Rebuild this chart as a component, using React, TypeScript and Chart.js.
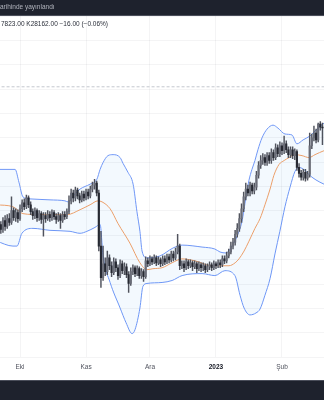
import React, { useEffect, useRef } from 'react';
import { Chart, registerables } from 'chart.js';

Chart.register(...registerables);

// x-axis: day index (0 = first candle), tick days and labels
const TICK_DAYS = [10, 41, 71, 102, 133];
const TICK_LABELS = ['Eki', 'Kas', 'Ara', '2023', 'Şub'];

const OPEN = [
  26280, 26200, 26100, 26280, 26160, 26320, 26240, 26480, 26340, 26440,
  26320, 26520, 26640, 26560, 26740, 26600, 26460, 26380, 26480, 26340,
  26420, 26300, 26380, 26320, 26400, 26340, 26440, 26360, 26300, 26380,
  26280, 26400, 26360, 26460, 26680, 26840, 26740, 26900, 26780, 26700,
  26820, 26740, 26860, 26780, 26920, 27000, 27040, 26840, 25760, 25120,
  25400, 25240, 25520, 25360, 25220, 25440, 25320, 25160, 25400, 25260,
  25340, 25180, 25000, 25240, 25320, 25200, 25300, 25160, 25240, 25140,
  25460, 25400, 25500, 25440, 25520, 25420, 25480, 25400, 25500, 25440,
  25540, 25480, 25600, 25520, 25640, 25760, 25360, 25400, 25320, 25440,
  25360, 25420, 25340, 25400, 25300, 25380, 25320, 25360, 25280, 25340,
  25380, 25320, 25400, 25360, 25420, 25380, 25500, 25460, 25560, 25640,
  25760, 25840, 26000, 26120, 26320, 26520, 26760, 26920, 26840, 27000,
  26880, 26960, 27200, 27400, 27500, 27560, 27460, 27600, 27500, 27660,
  27560, 27760, 27640, 27800, 27700, 27840, 27720, 27620, 27720, 27600,
  27680, 27360, 27240, 27160, 27260, 27140, 27220, 27800, 27960, 28060,
  27920, 28240, 28178,
];

const HIGH = [
  26340, 26260, 26340, 26380, 26400, 26420, 26760, 26540, 26520, 26500,
  26600, 26700, 26720, 26800, 26780, 26660, 26520, 26540, 26520, 26480,
  26460, 26440, 26440, 26480, 26460, 26500, 26480, 26420, 26440, 26420,
  26460, 26460, 26520, 26780, 26920, 26900, 26960, 26940, 26840, 26880,
  26880, 26920, 26920, 26980, 27060, 27120, 27080, 26900, 26060, 25760,
  25520, 25660, 25580, 25440, 25520, 25500, 25380, 25480, 25460, 25420,
  25400, 25240, 25320, 25380, 25360, 25360, 25340, 25300, 25280, 25540,
  25520, 25560, 25540, 25580, 25560, 25540, 25520, 25560, 25560, 25600,
  25600, 25660, 25660, 25720, 26000, 25800, 25460, 25460, 25500, 25480,
  25480, 25460, 25460, 25440, 25440, 25420, 25420, 25400, 25400, 25440,
  25420, 25460, 25440, 25480, 25480, 25560, 25560, 25640, 25700, 25840,
  25920, 26080, 26220, 26420, 26620, 26860, 27040, 27000, 27060, 27040,
  27040, 27280, 27480, 27600, 27640, 27620, 27660, 27660, 27740, 27720,
  27840, 27820, 27880, 27860, 28000, 27900, 27780, 27780, 27780, 27740,
  27720, 27440, 27300, 27320, 27320, 27280, 28060, 28040, 28200, 28140,
  28260, 28290, 28260,
];

const LOW = [
  26100, 26020, 26040, 26080, 26120, 26180, 26200, 26280, 26260, 26240,
  26280, 26460, 26500, 26520, 26540, 26400, 26300, 26320, 26260, 26280,
  26220, 25960, 26240, 26280, 26260, 26280, 26300, 26220, 26260, 26120,
  26240, 26300, 26320, 26420, 26620, 26660, 26680, 26720, 26640, 26660,
  26680, 26700, 26720, 26740, 26860, 26920, 26780, 25660, 24920, 25060,
  25160, 25180, 25280, 25140, 25180, 25240, 25080, 25120, 25200, 25180,
  25120, 24820, 24960, 25180, 25140, 25160, 25100, 25100, 25040, 25100,
  25340, 25360, 25380, 25400, 25360, 25380, 25340, 25360, 25380, 25400,
  25420, 25440, 25460, 25480, 25600, 25280, 25300, 25240, 25280, 25300,
  25320, 25260, 25300, 25220, 25260, 25240, 25260, 25220, 25240, 25280,
  25260, 25280, 25300, 25320, 25320, 25340, 25400, 25420, 25520, 25600,
  25700, 25780, 25940, 26060, 26240, 26460, 26700, 26780, 26780, 26820,
  26820, 26900, 27140, 27340, 27420, 27400, 27400, 27440, 27440, 27500,
  27520, 27580, 27580, 27620, 27640, 27660, 27560, 27560, 27540, 27520,
  27300, 27160, 27100, 27100, 27080, 27100, 27160, 27740, 27900, 27860,
  27880, 28120, 27823,
];

const CLOSE = [
  26200, 26100, 26280, 26160, 26320, 26240, 26480, 26340, 26440, 26320,
  26520, 26640, 26560, 26740, 26600, 26460, 26380, 26480, 26340, 26420,
  26300, 26380, 26320, 26400, 26340, 26440, 26360, 26300, 26380, 26280,
  26400, 26360, 26460, 26680, 26840, 26740, 26900, 26780, 26700, 26820,
  26740, 26860, 26780, 26920, 27000, 27040, 26840, 25760, 25120, 25400,
  25240, 25520, 25360, 25220, 25440, 25320, 25160, 25400, 25260, 25340,
  25180, 25000, 25240, 25320, 25200, 25300, 25160, 25240, 25140, 25460,
  25400, 25500, 25440, 25520, 25420, 25480, 25400, 25500, 25440, 25540,
  25480, 25600, 25520, 25640, 25760, 25360, 25400, 25320, 25440, 25360,
  25420, 25340, 25400, 25300, 25380, 25320, 25360, 25280, 25340, 25380,
  25320, 25400, 25360, 25420, 25380, 25500, 25460, 25560, 25640, 25760,
  25840, 26000, 26120, 26320, 26520, 26760, 26920, 26840, 27000, 26880,
  26960, 27200, 27400, 27500, 27560, 27460, 27600, 27500, 27660, 27560,
  27760, 27640, 27800, 27700, 27840, 27720, 27620, 27720, 27600, 27680,
  27360, 27240, 27160, 27260, 27140, 27220, 27800, 27960, 28060, 27920,
  28240, 28178, 28162,
];

// Bollinger bands, read at key days
const UPPER_DAYS = [-1, 7.7, 9.5, 11.4, 14.7, 24.1, 31.1, 32.5, 35.8, 38.2, 42.9, 46.1, 47.6, 49, 51.3, 53.7, 57, 58.4, 60.7, 63.1, 64.9, 66.3, 67.3, 69.6, 75.7, 81.8, 86.1, 95.5, 101.5, 103.9, 106.7, 109.5, 111.9, 114.2, 116.1, 117.5, 118.9, 120.3, 121.7, 123.6, 126, 128.8, 131.1, 134.4, 137.7, 140, 142.9, 146.1, 149.9, 152.7, 154];
const UPPER = [27320, 27320, 27060, 26760, 26720, 26700, 26680, 26660, 26820, 26920, 27020, 27120, 27320, 27460, 27600, 27620, 27560, 27440, 27260, 27020, 26460, 26060, 25660, 25520, 25560, 25720, 25780, 25740, 25700, 25640, 25620, 25760, 25960, 26260, 26760, 27100, 27320, 27500, 27720, 27960, 28140, 28220, 28160, 28040, 28020, 27840, 27920, 28000, 28160, 28260, 28300];

const BASIS_DAYS = [-1, 6.7, 11.4, 19.4, 32.1, 38.2, 42.9, 46.6, 48.5, 52.3, 56, 61.6, 66.3, 69.6, 72.4, 76.7, 81.4, 86.1, 92.2, 100.1, 108.1, 111, 112.8, 115.2, 117.5, 120.3, 122.7, 125, 127.4, 129.2, 131.6, 134, 136.3, 139.1, 142.4, 145.7, 148.5, 152.7, 154];
const BASIS = [26600, 26560, 26420, 26400, 26400, 26500, 26600, 26680, 26660, 26520, 26220, 25820, 25420, 25280, 25300, 25320, 25420, 25500, 25460, 25360, 25360, 25420, 25500, 25660, 25860, 26120, 26320, 26600, 26920, 27200, 27420, 27500, 27560, 27620, 27600, 27560, 27620, 27700, 27720];

const LOWER_DAYS = [-1, 6.7, 8.6, 10.9, 16.1, 24.1, 33.5, 38.2, 41.4, 45.2, 47.6, 49, 52.3, 57, 59.8, 62.6, 64, 66.3, 67.7, 69.6, 76.7, 81.4, 86.1, 95.5, 101.5, 106.2, 110.9, 113.3, 115.2, 118, 120.8, 122.7, 125, 127.4, 129.7, 132, 134.4, 136.8, 139.1, 141, 143.8, 147.1, 150.8, 152.7, 154];
const LOWER = [25860, 25760, 25760, 26020, 26120, 26080, 26060, 26020, 26060, 26140, 26200, 25560, 25020, 24500, 24200, 23980, 24060, 24500, 24940, 25000, 25020, 25060, 25160, 25200, 25160, 25260, 25160, 24760, 24500, 24360, 24400, 24480, 24760, 25100, 25600, 26060, 26560, 26960, 27280, 27360, 27300, 27160, 27060, 27020, 27000];

const DASHED_LEVEL = 29000;

const X_MIN = 0.61;
const X_MAX = 152.72;
const Y_MIN = 23500;
const Y_MAX = 30440;

const FONT = '"Liberation Sans", Arial, sans-serif';
const GRID = 'rgba(42,46,57,0.05)';
const BAND_BLUE = '#7097f6';

export default function App() {
  const ref = useRef<HTMLCanvasElement>(null);

  useEffect(() => {
    const canvas = ref.current;
    if (!canvas) return;
    const days = OPEN.map((_, i) => i);
    const bodies = days.map((i) => ({ x: i, y: [OPEN[i], CLOSE[i]] }));
    const wicks = days.map((i) => ({ x: i, y: [LOW[i], HIGH[i]] }));
    const pts = (xs: number[], ys: number[]) => xs.map((x, i) => ({ x, y: ys[i] }));
    const isUp = (i: number) => CLOSE[i] >= OPEN[i];

    const chart = new Chart(canvas, {
      type: 'bar',
      data: {
        datasets: [
          {
            type: 'bar',
            data: bodies as any,
            grouped: false,
            barThickness: 1.5,
            minBarLength: 1,
            backgroundColor: (c: any) => (isUp(c.dataIndex) ? '#6a6d78' : '#262932'),
            borderWidth: 0,
            order: 0,
          } as any,
          {
            type: 'bar',
            data: wicks as any,
            grouped: false,
            barThickness: 0.8,
            backgroundColor: '#50535d',
            borderWidth: 0,
            order: 1,
          } as any,
          {
            type: 'line',
            data: pts(UPPER_DAYS, UPPER),
            borderColor: BAND_BLUE,
            borderWidth: 1,
            pointRadius: 0,
            cubicInterpolationMode: 'monotone',
            fill: '+2',
            backgroundColor: 'rgba(33,150,243,0.055)',
            order: 2,
          } as any,
          {
            type: 'line',
            data: pts(BASIS_DAYS, BASIS),
            borderColor: '#f7a063',
            borderWidth: 1,
            pointRadius: 0,
            cubicInterpolationMode: 'monotone',
            fill: false,
            order: 2,
          } as any,
          {
            type: 'line',
            data: pts(LOWER_DAYS, LOWER),
            borderColor: BAND_BLUE,
            borderWidth: 1,
            pointRadius: 0,
            cubicInterpolationMode: 'monotone',
            fill: false,
            order: 2,
          } as any,
          {
            type: 'line',
            data: [
              { x: -1, y: DASHED_LEVEL },
              { x: 154, y: DASHED_LEVEL },
            ],
            borderColor: '#c4c7ce',
            borderWidth: 1,
            borderDash: [3, 2],
            pointRadius: 0,
            fill: false,
            order: 3,
          } as any,
        ],
      },
      options: {
        animation: false,
        responsive: false,
        devicePixelRatio: 1,
        events: [],
        layout: { padding: { left: 0, right: 0, top: 0, bottom: 3 } },
        plugins: { legend: { display: false }, tooltip: { enabled: false } },
        scales: {
          x: {
            type: 'linear',
            min: X_MIN,
            max: X_MAX,
            offset: false,
            grid: { color: GRID, drawTicks: false, offset: false },
            border: { display: false },
            afterBuildTicks: (scale: any) => {
              scale.ticks = TICK_DAYS.map((v) => ({ value: v }));
            },
            ticks: {
              autoSkip: false,
              maxRotation: 0,
              padding: 6,
              callback: (v: any) => TICK_LABELS[TICK_DAYS.indexOf(Number(v))] ?? '',
              font: (c: any) => ({
                family: FONT,
                size: 6.5,
                weight: c.tick && c.tick.label === '2023' ? 'bold' : 'normal',
              }),
              color: (c: any) => (c.tick && c.tick.label === '2023' ? '#131722' : '#50535e'),
            },
          },
          y: {
            type: 'linear',
            min: Y_MIN,
            max: Y_MAX,
            grid: { color: GRID, drawTicks: false },
            border: { display: false },
            ticks: { display: false, stepSize: 500, includeBounds: false },
          },
        },
      } as any,
    });
    return () => chart.destroy();
  }, []);

  return (
    <div
      style={{
        position: 'absolute',
        left: 0,
        top: 0,
        width: 324,
        height: 400,
        background: '#ffffff',
        overflow: 'hidden',
        fontFamily: FONT,
      }}
    >
      <canvas
        ref={ref}
        width={324}
        height={364}
        style={{ position: 'absolute', left: 0, top: 16, width: 324, height: 364, display: 'block' }}
      />
      <div
        style={{
          position: 'absolute',
          left: 0,
          top: 0,
          width: 324,
          height: 15,
          background: '#1e222d',
          borderBottom: '1px solid #4a4e5a',
        }}
      >
        <span
          style={{
            position: 'absolute',
            left: 0,
            top: 3,
            fontSize: 6.5,
            lineHeight: '8px',
            color: '#b2b5be',
            whiteSpace: 'nowrap',
          }}
        >
          arihinde yayınlandı
        </span>
      </div>
      <div
        style={{
          position: 'absolute',
          left: 1,
          top: 20,
          fontSize: 6.5,
          lineHeight: '8px',
          color: '#2a2e39',
          whiteSpace: 'nowrap',
        }}
      >
        7823.00 K28162.00 −16.00 (−0.06%)
      </div>
      <div
        style={{
          position: 'absolute',
          left: 0,
          top: 380,
          width: 324,
          height: 20,
          background: '#1e222d',
          borderTop: '1px solid #4a4e5a',
          boxSizing: 'border-box',
        }}
      />
    </div>
  );
}
